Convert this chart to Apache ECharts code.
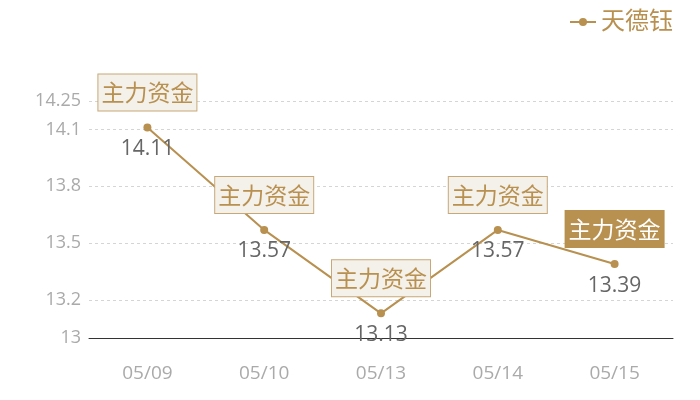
<!DOCTYPE html>
<html>
<head>
<meta charset="utf-8">
<script src="https://cdn.jsdelivr.net/npm/echarts@6/dist/echarts.min.js"></script>
<style>
  html, body { margin:0; padding:0; background:#fff; }
  #chart { width:700px; height:400px; }
</style>
</head>
<body>
<div id="chart"></div>
<script>
const dates = ['05/09', '05/10', '05/13', '05/14', '05/15'];
const prices = [14.11, 13.57, 13.13, 13.57, 13.39];
const yTicks = [13, 13.2, 13.5, 13.8, 14.1, 14.25];
const seriesName = '天德钰';
const tagText = '主力资金';
const activeTag = 4;

const gold = '#b8904f';
const font = '"Open Sans", "Noto Sans CJK SC", sans-serif';

const chart = echarts.init(document.getElementById('chart'), null, { renderer:'canvas' });

// last tag is drawn filled
const tagData = prices.map((v, i) => {
  if (i !== activeTag) return v;
  return { value: v, label: { color:'#fff', backgroundColor:gold, borderColor:gold } };
});

chart.setOption({
  backgroundColor: '#fff',
  textStyle: { fontFamily: font },
  animation: false,
  legend: {
    data: [seriesName],
    top: 5, right: 22,
    itemWidth: 26, itemHeight: 10,
    textStyle: { color:gold, fontSize:24, fontFamily:font }
  },
  grid: { left:89, right:27, top:101, bottom:62 },
  xAxis: {
    type:'category', data: dates, boundaryGap:true,
    axisLine:{ lineStyle:{ color:'#333', width:1 } },
    axisTick:{ show:false },
    axisLabel:{ color:'#aaa', fontSize:19, margin:26 },
    splitLine:{ show:false }
  },
  yAxis: {
    type:'value', min:13, max:14.25,
    axisLine:{ show:false },
    axisTick:{ show:false, customValues: yTicks },
    axisLabel:{ color:'#aaa', fontSize:18, margin:8, customValues: yTicks },
    splitLine:{ show:true, lineStyle:{ color:'#d5d5d5', type:[3, 3] } }
  },
  series: [
    { name: seriesName, type:'line', data: prices,
      symbol:'circle', symbolSize:8,
      itemStyle:{ color:gold },
      lineStyle:{ color:gold, width:2 },
      label:{ show:true, position:'bottom', distance:7, color:'#666', fontSize:21 },
      z:3 },
    { name: 'tag', type:'line', data: tagData,
      symbol:'circle', symbolSize:8, silent:true,
      itemStyle:{ color:'rgba(0,0,0,0)' }, lineStyle:{ width:0, color:'rgba(0,0,0,0)' },
      label:{ show:true, position:'top', distance:13, formatter: tagText,
        color:gold, fontSize:23, fontFamily:'"Noto Sans CJK SC", sans-serif',
        backgroundColor:'#f4f0ea', borderColor:'#c9a878', borderWidth:1,
        padding:[4, 3, 4, 3], lineHeight:28 },
      labelLayout:{ hideOverlap:false },
      z:4 }
  ]
});
</script>
</body>
</html>
